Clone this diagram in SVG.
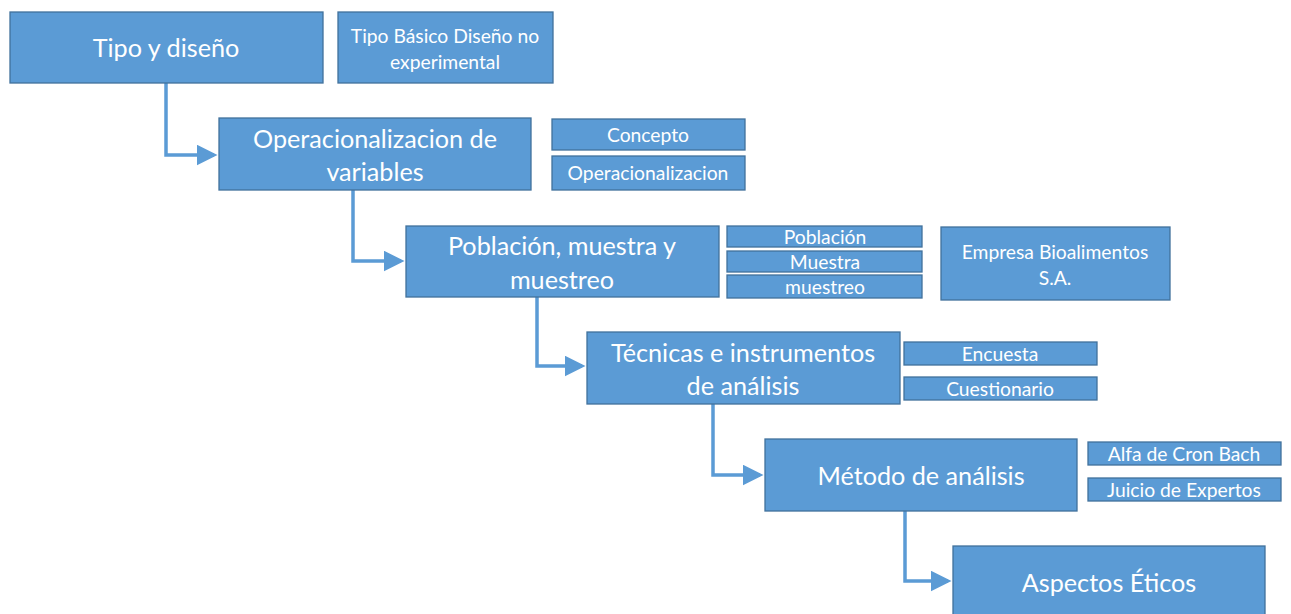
<svg xmlns="http://www.w3.org/2000/svg" width="1291" height="614" viewBox="0 0 1291 614">
<style>
.b{fill:#5B9BD5;stroke:#41719C;stroke-width:1.3}
.t{fill:#fff;font-family:Lato,"Open Sans","Liberation Sans",sans-serif;text-anchor:middle;dominant-baseline:central}
.L{font-size:25.2px}
.S{font-size:19.3px}
.c{fill:none;stroke:#5B9BD5;stroke-width:3.5}
</style>
<defs>
<marker id="a" markerWidth="6" markerHeight="6" refX="5" refY="3" orient="auto" markerUnits="strokeWidth">
<path d="M0,0 L6,3 L0,6 Z" fill="#5B9BD5"/>
</marker>
</defs>
<rect width="1291" height="614" fill="#fff"/>
<g id="connectors">
<path class="c" d="M166,83 V155 H214" marker-end="url(#a)"/>
<path class="c" d="M353,190 V261 H401" marker-end="url(#a)"/>
<path class="c" d="M537,297 V366 H582" marker-end="url(#a)"/>
<path class="c" d="M713,404 V475 H760" marker-end="url(#a)"/>
<path class="c" d="M905,511 V581 H948" marker-end="url(#a)"/>
</g>
<g id="tipo"><rect class="b" x="10" y="12" width="313" height="71"/><text class="t L" x="166" y="47">Tipo y diseño</text></g>
<g id="tipobasico"><rect class="b" x="338" y="12" width="215" height="71"/><text class="t S" x="445" y="35">Tipo Básico Diseño no</text><text class="t S" x="445" y="61">experimental</text></g>
<g id="operac"><rect class="b" x="219" y="118" width="312" height="72"/><text class="t L" x="375" y="138">Operacionalizacion de</text><text class="t L" x="375" y="171">variables</text></g>
<g id="concepto"><rect class="b" x="552" y="119" width="193" height="31"/><text class="t S" x="648" y="134">Concepto</text></g>
<g id="operac2"><rect class="b" x="552" y="156" width="193" height="34"/><text class="t S" x="648" y="172">Operacionalizacion</text></g>
<g id="poblacion"><rect class="b" x="406" y="226" width="313" height="71"/><text class="t L" x="562" y="245">Población, muestra y</text><text class="t L" x="562" y="279">muestreo</text></g>
<g id="pob"><rect class="b" x="727" y="226" width="195" height="21"/><text class="t S" x="825" y="236">Población</text></g>
<g id="mue"><rect class="b" x="727" y="251" width="195" height="21"/><text class="t S" x="825" y="261">Muestra</text></g>
<g id="mueo"><rect class="b" x="727" y="275" width="195" height="23"/><text class="t S" x="825" y="286">muestreo</text></g>
<g id="empresa"><rect class="b" x="941" y="227" width="229" height="73"/><text class="t S" x="1055" y="251">Empresa Bioalimentos</text><text class="t S" x="1055" y="277">S.A.</text></g>
<g id="tecnicas"><rect class="b" x="587" y="332" width="313" height="72"/><text class="t L" x="743" y="352">Técnicas e instrumentos</text><text class="t L" x="743" y="385">de análisis</text></g>
<g id="encuesta"><rect class="b" x="904" y="342" width="193" height="23"/><text class="t S" x="1000" y="353">Encuesta</text></g>
<g id="cuest"><rect class="b" x="904" y="377" width="193" height="23"/><text class="t S" x="1000" y="388">Cuestionario</text></g>
<g id="metodo"><rect class="b" x="765" y="439" width="312" height="72"/><text class="t L" x="921" y="475">Método de análisis</text></g>
<g id="alfa"><rect class="b" x="1088" y="442" width="193" height="23"/><text class="t S" x="1184" y="453">Alfa de Cron Bach</text></g>
<g id="juicio"><rect class="b" x="1088" y="478" width="193" height="23"/><text class="t S" x="1184" y="489">Juicio de Expertos</text></g>
<g id="aspectos"><rect class="b" x="953" y="546" width="312" height="72"/><text class="t L" x="1109" y="582">Aspectos Éticos</text></g>
</svg>
